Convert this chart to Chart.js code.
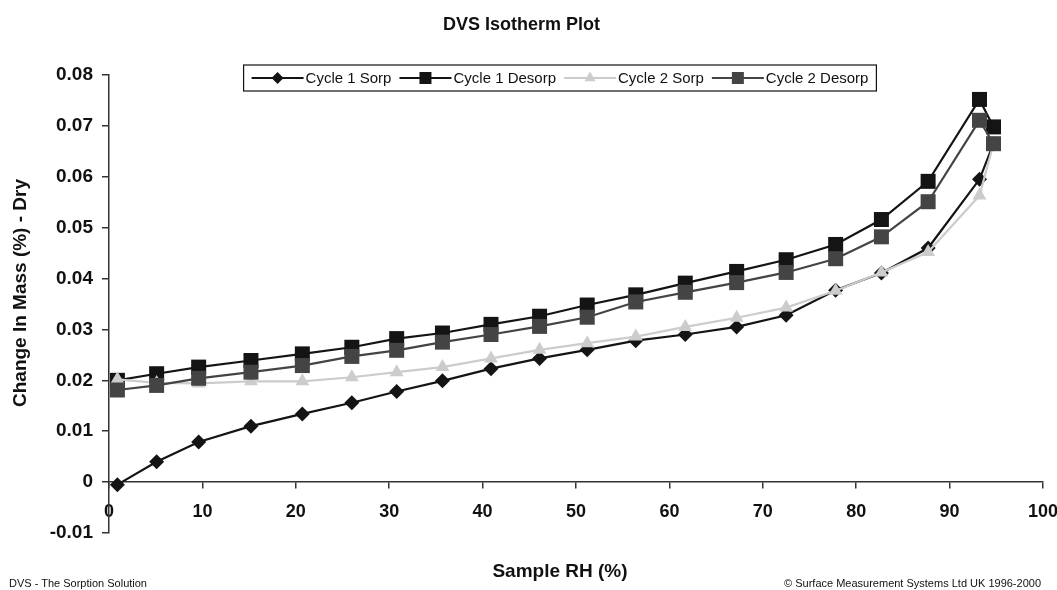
<!DOCTYPE html>
<html>
<head>
<meta charset="utf-8">
<script src="https://cdn.jsdelivr.net/npm/chart.js@4.4.0/dist/chart.umd.min.js"></script>
<style>
  body { margin: 0; background: #fff; }
  #wrap { position: relative; width: 1057px; height: 590px; }
  .foot { position: absolute; font-family: "Liberation Sans", Arial, sans-serif; font-size: 11px; color: #111; line-height: 12px; }
  #foot-left { left: 9px; top: 577px; }
  #foot-right { right: 16px; top: 577px; }
</style>
</head>
<body>
<div id="wrap">
  <canvas id="isoChart"></canvas>
  <div class="foot" id="foot-left">DVS - The Sorption Solution</div>
  <div class="foot" id="foot-right">© Surface Measurement Systems Ltd UK 1996-2000</div>
</div>
<script>
// DVS isotherm data
const sampleRH = [0.9, 5.1, 9.6, 15.2, 20.7, 26.0, 30.8, 35.7, 40.9, 46.1, 51.2, 56.4, 61.7, 67.2, 72.5, 77.8, 82.7, 87.7, 93.2, 94.7];
const cycle1Sorp = [-0.0005, 0.0040, 0.0079, 0.0110, 0.0134, 0.0156, 0.0178, 0.0199, 0.0223, 0.0243, 0.0260, 0.0278, 0.0290, 0.0305, 0.0328, 0.0377, 0.0411, 0.0460, 0.0595, 0.0665];
const cycle1Desorp = [0.0200, 0.0213, 0.0226, 0.0239, 0.0252, 0.0265, 0.0282, 0.0293, 0.0310, 0.0326, 0.0348, 0.0368, 0.0391, 0.0414, 0.0437, 0.0467, 0.0516, 0.0591, 0.0752, 0.0698];
const cycle2Sorp = [0.0202, 0.0195, 0.0194, 0.0198, 0.0198, 0.0206, 0.0216, 0.0226, 0.0243, 0.0260, 0.0273, 0.0286, 0.0305, 0.0323, 0.0343, 0.0376, 0.0412, 0.0452, 0.0563, 0.0665];
const cycle2Desorp = [0.0181, 0.0190, 0.0204, 0.0216, 0.0229, 0.0247, 0.0259, 0.0275, 0.0290, 0.0306, 0.0324, 0.0354, 0.0373, 0.0392, 0.0412, 0.0439, 0.0482, 0.0551, 0.0711, 0.0665];

const seriesNames = ['Cycle 1 Sorp', 'Cycle 1 Desorp', 'Cycle 2 Sorp', 'Cycle 2 Desorp'];
const xTicks = { min: 0, max: 100, step: 10 };
const yTicks = { min: -0.01, max: 0.08, step: 0.01 };

const FONT = '"Liberation Sans", Arial, Helvetica, sans-serif';
Chart.defaults.font.family = FONT;
Chart.defaults.color = '#111';

const toPoints = vals => vals.map((v, i) => ({ x: sampleRH[i], y: v }));

function series(label, vals, color, style, radius, order) {
    return {
        label: label,
        data: toPoints(vals),
        borderColor: color,
        backgroundColor: color,
        borderWidth: 2.2,
        pointStyle: style,
        pointRadius: radius,
        pointHoverRadius: radius,
        pointBorderWidth: 0,
        pointBackgroundColor: color,
        tension: 0,
        order: order
    };
}

// boxed legend drawn inside the plot, like the original
function drawMarker(ctx, style, x, y, r) {
    ctx.beginPath();
    if (style === 'rectRot') {
        ctx.moveTo(x - r, y); ctx.lineTo(x, y - r); ctx.lineTo(x + r, y); ctx.lineTo(x, y + r);
    } else if (style === 'rect') {
        const s = r * Math.SQRT1_2;
        ctx.rect(x - s, y - s, 2 * s, 2 * s);
    } else {
        ctx.moveTo(x, y - r);
        ctx.lineTo(x + r * 0.866, y + r * 0.5);
        ctx.lineTo(x - r * 0.866, y + r * 0.5);
    }
    ctx.closePath();
    ctx.fill();
}

const boxLegend = {
    id: 'boxLegend',
    afterLayout(chart) {
        // axis titles sit a little off the plot centre in the original
        const t = chart.scales.x2;
        if (t) t.right -= 32;
        const s = chart.scales.y2;
        if (s) s.bottom -= 22;
    },
    afterDraw(chart) {
        const ctx = chart.ctx;
        const lineLen = 52, spacing = 8, pad = 8, h = 26;
        ctx.save();
        ctx.font = '15px ' + FONT;
        const items = chart.data.datasets.map(ds => ({ ds, tw: ctx.measureText(ds.label).width }));
        const total = items.reduce((a, it) => a + lineLen + 2 + it.tw, 0) + spacing * (items.length - 1) + pad * 2;
        const left = 560 - total / 2;
        const top = chart.chartArea.top - 10;
        ctx.fillStyle = '#fff';
        ctx.fillRect(left, top, total, h);
        ctx.strokeStyle = '#111';
        ctx.lineWidth = 1.2;
        ctx.strokeRect(left, top, total, h);
        let x = left + pad;
        const cy = top + h / 2;
        items.forEach(it => {
            const ds = it.ds;
            ctx.strokeStyle = ds.borderColor;
            ctx.lineWidth = ds.borderWidth;
            ctx.beginPath();
            ctx.moveTo(x, cy);
            ctx.lineTo(x + lineLen, cy);
            ctx.stroke();
            ctx.fillStyle = ds.borderColor;
            drawMarker(ctx, ds.pointStyle, x + lineLen / 2, cy, ds.pointRadius * 0.8);
            ctx.fillStyle = '#111';
            ctx.textBaseline = 'middle';
            ctx.textAlign = 'left';
            ctx.fillText(ds.label, x + lineLen + 2, cy + 1);
            x += lineLen + 2 + it.tw + spacing;
        });
        ctx.restore();
    }
};

const axisColor = '#333';
const ctx = document.getElementById('isoChart').getContext('2d');
new Chart(ctx, {
    type: 'line',
    data: {
        datasets: [
            series(seriesNames[0], cycle1Sorp, '#141414', 'rectRot', 7.5, 4),
            series(seriesNames[1], cycle1Desorp, '#141414', 'rect', 10.6, 3),
            series(seriesNames[2], cycle2Sorp, '#cccccc', 'triangle', 8, 2),
            series(seriesNames[3], cycle2Desorp, '#444444', 'rect', 10.6, 1)
        ]
    },
    plugins: [boxLegend],
    options: {
        responsive: true,
        maintainAspectRatio: false,
        animation: false,
        layout: { padding: { top: 0, left: 0, right: 14, bottom: 0 } },
        scales: {
            x: {
                type: 'linear',
                position: { y: 0 },
                min: xTicks.min,
                max: xTicks.max,
                afterFit: s => { s.height = 0; s.paddingLeft = 0; s.paddingRight = 0; },
                border: { color: axisColor, width: 1.5 },
                grid: { drawOnChartArea: false, tickLength: 6, color: axisColor, lineWidth: 1.5 },
                ticks: { stepSize: xTicks.step, padding: 13, maxRotation: 0, font: { size: 18, weight: 'bold' }, color: '#111' }
            },
            x2: {
                type: 'linear',
                position: 'bottom',
                afterFit: s => { s.height = 57; s.paddingLeft = 0; s.paddingRight = 0; },
                border: { display: false },
                grid: { display: false, drawTicks: false },
                ticks: { display: false },
                title: { display: true, text: 'Sample RH (%)', font: { size: 19, weight: 'bold' }, color: '#111', padding: { top: 0, bottom: 7 } }
            },
            y: {
                min: yTicks.min,
                max: yTicks.max,
                afterFit: s => { s.width = 79; s.paddingTop = 0; s.paddingBottom = 0; },
                border: { color: axisColor, width: 1.5 },
                grid: { drawOnChartArea: false, tickLength: 7, color: axisColor, lineWidth: 1.5 },
                ticks: {
                    stepSize: yTicks.step,
                    padding: 9,
                    font: { size: 19, weight: 'bold' },
                    color: '#111',
                    callback: v => String(+v.toFixed(2))
                }
            },
            y2: {
                type: 'linear',
                position: 'left',
                weight: 1,
                afterFit: s => { s.width = 30; s.paddingTop = 0; s.paddingBottom = 0; },
                border: { display: false },
                grid: { display: false, drawTicks: false },
                ticks: { display: false },
                title: { display: true, text: 'Change In Mass (%) - Dry', font: { size: 19, weight: 'bold' }, color: '#111', padding: { top: 9, bottom: 0 } }
            }
        },
        plugins: {
            legend: { display: false },
            tooltip: { enabled: false },
            title: {
                display: true,
                text: 'DVS Isotherm Plot',
                font: { size: 18, weight: 'bold' },
                color: '#111',
                padding: { top: 14, bottom: 39.4 }
            }
        }
    }
});
</script>
</body>
</html>
